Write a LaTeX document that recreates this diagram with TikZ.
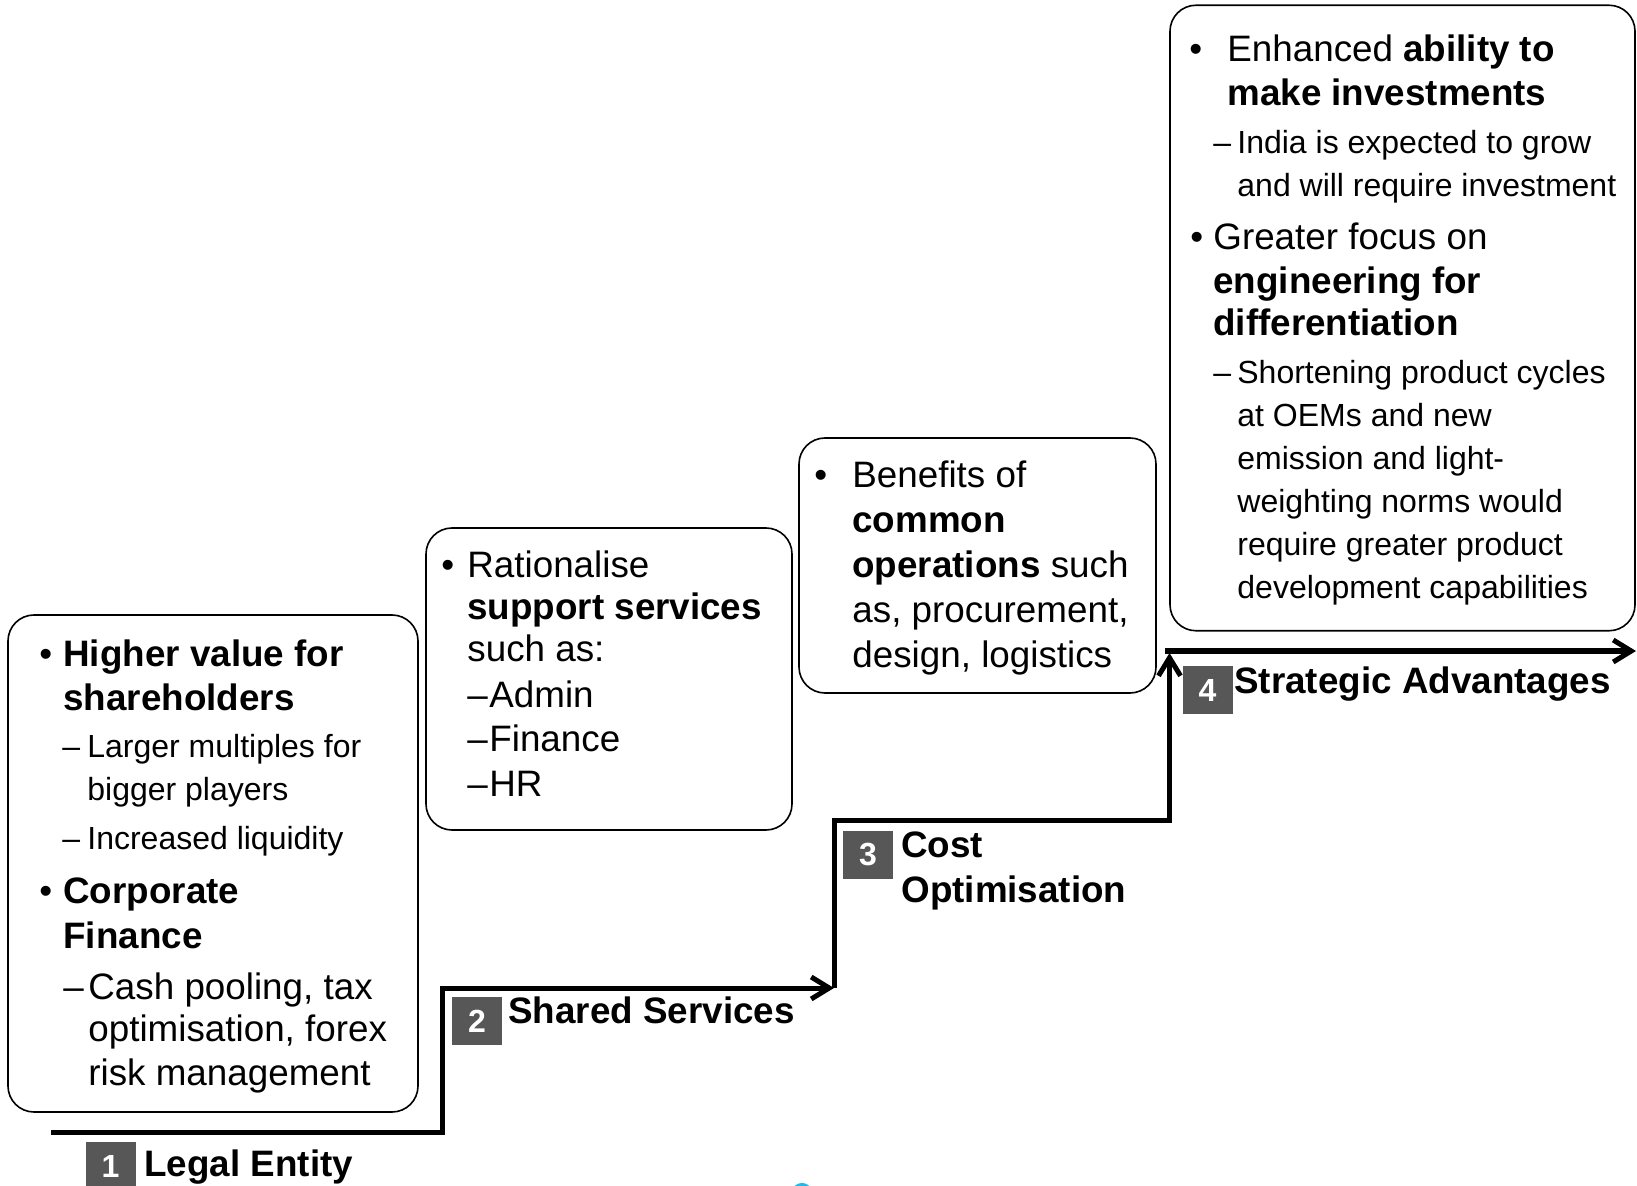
\documentclass[tikz,border=0pt]{standalone}
\usepackage{fontspec}
\setmainfont{Liberation Sans}
\usetikzlibrary{arrows.meta, positioning}
\definecolor{badgegray}{HTML}{575757}
\definecolor{inkblack}{HTML}{000000}
\definecolor{logocyan}{HTML}{22B8E8}
\newcommand{\mainsz}{\fontsize{18.4}{21.5}\selectfont}
\newcommand{\subsz}{\fontsize{16}{21.5}\selectfont}
\newcommand{\bul}{\textbullet}
\newcommand{\dsh}{\textendash}
\tikzset{
  % Benefit cards
  card/.style={
    draw=inkblack, rounded corners=13pt, line width=0.8pt,
    inner sep=0pt,
  },
  % Card text, placed on its first baseline
  cardtext/.style={inner sep=0pt, anchor=base west, text=inkblack},
  % Numbered step badges
  badge/.style={
    fill=badgegray, minimum width=25pt, minimum height=24pt,
    inner sep=0pt, text=white,
    font=\fontsize{16}{16}\selectfont\bfseries,
  },
  steplabel/.style={
    inner sep=0pt, anchor=base west, text=inkblack,
    font=\fontsize{18.4}{21.5}\selectfont\bfseries,
  },
  % Staircase arrows
  stair/.style={-{Straight Barb[length=9pt, width=11pt]}, line width=2.5pt, inkblack},
}
\begin{document}
\begin{tikzpicture}[x=0.5pt, y=-0.5pt]
  \path[use as bounding box, fill=white] (0,0) rectangle (1637,1186);

  % Cards
  \node[card, minimum width=205pt, minimum height=248.5pt] (legalcard) at (213,863.5) {};
  \node[card, minimum width=183pt, minimum height=151pt] (sharedcard) at (609,679) {};
  \node[card, minimum width=178.5pt, minimum height=127.5pt] (costcard) at (977.5,565.5) {};
  \node[card, minimum width=232.5pt, minimum height=312.75pt] (stratcard) at (1402.5,318) {};

  % Card texts
  \node[cardtext] (legaltxt) at (39,667) {\parbox[t]{200pt}{\mainsz
    \makebox[12pt][l]{\bul}\textbf{Higher value for}\\
    \hspace*{12pt}\textbf{shareholders}\\[2pt]
    \subsz\hspace*{11.5pt}\makebox[12.5pt][l]{\dsh}Larger multiples for\\
    \hspace*{24pt}bigger players\\[3.5pt]
    \hspace*{11.5pt}\makebox[12.5pt][l]{\dsh}Increased liquidity\\[5.5pt]
    \mainsz\makebox[12pt][l]{\bul}\textbf{Corporate}\\[0.5pt]
    \hspace*{12pt}\textbf{Finance}\\[4pt]
    \hspace*{12pt}\makebox[12.5pt][l]{\dsh}Cash pooling, tax\\
    \hspace*{24.5pt}optimisation, forex\\
    \hspace*{24.5pt}risk management}};
  \node[cardtext] (sharedtxt) at (441,578) {\parbox[t]{180pt}{\fontsize{18.4}{21}\selectfont
    \makebox[13pt][l]{\bul}Rationalise\\
    \hspace*{13pt}\textbf{support services}\\
    \hspace*{13pt}such as:\\[2pt]
    \hspace*{13pt}\makebox[11pt][l]{\dsh}Admin\\[1pt]
    \hspace*{13pt}\makebox[11pt][l]{\dsh}Finance\\[1.5pt]
    \hspace*{13pt}\makebox[11pt][l]{\dsh}HR}};
  \node[cardtext] (costtxt) at (814,488) {\parbox[t]{180pt}{\fontsize{18.4}{22.5}\selectfont
    \makebox[19pt][l]{\bul}Benefits of\\
    \hspace*{19pt}\textbf{common}\\
    \hspace*{19pt}\textbf{operations} such\\
    \hspace*{19pt}as, procurement,\\
    \hspace*{19pt}design, logistics}};
  \node[cardtext] (strattxt) at (1189,62) {\parbox[t]{240pt}{\mainsz
    \makebox[19pt][l]{\bul}Enhanced \textbf{ability to}\\[0.5pt]
    \hspace*{19pt}\textbf{make investments}\\[2.5pt]
    \subsz\hspace*{12pt}\makebox[12pt][l]{\dsh}India is expected to grow\\
    \hspace*{24pt}and will require investment\\[5pt]
    \mainsz\hspace*{0.5pt}\makebox[11.5pt][l]{\bul}Greater focus on\\[0.5pt]
    \hspace*{12pt}\textbf{engineering for}\\[-0.5pt]
    \hspace*{12pt}\textbf{differentiation}\\[2.5pt]
    \subsz\hspace*{12pt}\makebox[12pt][l]{\dsh}Shortening product cycles\\
    \hspace*{24pt}at OEMs and new\\
    \hspace*{24pt}emission and light-\\
    \hspace*{24pt}weighting norms would\\
    \hspace*{24pt}require greater product\\
    \hspace*{24pt}development capabilities}};

  % Staircase
  \coordinate (s1start) at (51,1132);
  \coordinate (s1top) at (442,988);
  \coordinate (s2end) at (834,988);
  \coordinate (s2top) at (834,820.5);
  \coordinate (s3end) at (1169.5,653);
  \coordinate (s4start) at (1165,651);
  \coordinate (s4end) at (1636,651);
  \draw[stair] (s1start) -| (s1top) -- (s2end);
  \draw[stair] (s2end) -- (s2top) -| (s3end);
  \draw[stair] (s4start) -- (s4end);

  % Step badges and labels
  \node[badge] (b1) at (110.5,1166) {1};
  \node[steplabel] (legallbl) at (144,1176) {Legal Entity};
  \node[badge] (b2) at (477,1021) {2};
  \node[steplabel] (sharedlbl) at (508,1023) {Shared Services};
  \node[badge] (b3) at (868,855) {3};
  \node[steplabel] (costlbl) at (901,857) {Cost};
  \node[steplabel] (optlbl) at (901,902) {Optimisation};
  \node[badge] (b4) at (1207.5,690) {4};
  \node[steplabel] (stratlbl) at (1234,693) {Strategic Advantages};

  % Logo edge
  \fill[logocyan] (802,1203) ellipse [x radius=7pt, y radius=10pt];
\end{tikzpicture}
\end{document}
